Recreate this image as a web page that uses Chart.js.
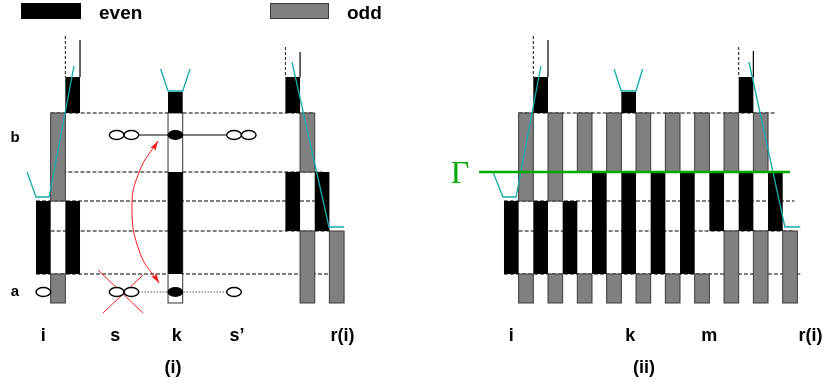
<!DOCTYPE html>
<html lang="en">
<head>
<meta charset="UTF-8">
<title>even / odd columns</title>
<script src="https://cdn.jsdelivr.net/npm/chart.js"></script>
<style>
    body { margin: 0; background: #fff; }
    canvas { display: block; }
</style>
</head>
<body>
<canvas id="diagram" width="825" height="383"></canvas>
<script>
// x is measured in columns (column c spans c..c+1), y in height units counted downward.
// bars: [column, top, bottom]
const evenBarsI = [[0, 201, 274], [2, 77, 113], [2, 201, 274], [9, 92, 113], [9, 172, 274],
                   [17, 77, 113], [17, 172, 231], [19, 172, 231]];
const oddBarsI = [[1, 113, 201], [1, 274, 303], [18, 113, 172], [18, 231, 303], [20, 231, 303]];
const emptyBarsI = [[9, 113, 303]];

const evenBarsII = [[0, 201, 274], [2, 77, 113], [2, 201, 274], [4, 201, 274], [6, 172, 274],
                    [8, 92, 113], [8, 172, 274], [10, 172, 274], [12, 172, 274], [14, 172, 231],
                    [16, 77, 113], [16, 172, 231], [18, 172, 231]];
const oddBarsII = [[1, 113, 201], [1, 274, 303], [3, 113, 201], [3, 274, 303], [5, 113, 172], [5, 274, 303],
                   [7, 113, 172], [7, 274, 303], [9, 113, 172], [9, 274, 303], [11, 113, 172], [11, 274, 303],
                   [13, 113, 172], [13, 274, 303], [15, 113, 172], [15, 231, 303], [17, 113, 172],
                   [17, 231, 303], [19, 231, 303]];

// dashed guide lines: [level, from column, to column]
const guidesI = [[113, 1, 19], [172, 1.8, 19.5], [201, 0, 19.7], [231, 1, 20], [274, 0, 20]];
const guidesII = [[113, 1, 18.5], [201, 0, 19.8], [231, 1, 19.7], [274, 0, 20.2]];

// stems above the tall columns: [column edge, top level] (all end at 77)
const dashedStemsI = [[2, 36], [17, 47]];
const solidStemsI = [[3, 40], [18, 52]];
const dashedStemsII = [[2, 36], [16, 47]];
const solidStemsII = [[3, 40], [17, 51]];

// cyan boundary paths
const cyanI = [
    [[-0.61, 172], [0, 197], [0.89, 197], [2.59, 66]],
    [[8.5, 69], [9, 91], [10, 91], [10.5, 69]],
    [[17.45, 62], [19.97, 227], [21, 227]]
];
const cyanII = [
    [[-0.75, 172], [-0.07, 197], [0.82, 197], [2.52, 66]],
    [[7.5, 69], [8, 91], [9, 91], [9.45, 69]],
    [[16.7, 62], [19.15, 227], [20.2, 227]]
];

// nodes of panel (i)
const openNodesI = [[5.5, 135], [6.5, 135], [13.5, 135], [14.5, 135], [0.5, 292], [5.5, 292], [6.5, 292], [13.5, 292]];
const filledNodesI = [[9.5, 135], [9.5, 292]];
const solidBondI = [[7, 135], [13, 135]];
const dottedBondI = [[7, 292], [13, 292]];

// red marks of panel (i)
const crossI = [[[4.23, 270], [7.29, 313]], [[4.57, 313], [7.29, 275]]];
const swapArrowI = [[8.32, 141], [7.09, 170], [6.54, 207], [7.09, 253], [8.39, 283]];

// Gamma line of panel (ii)
const gammaLineII = [[-1.7, 172], [19.5, 172]];

// text
const colLabelsI = [['i', 0.5], ['s', 5.4], ['k', 9.6], ['s\u2019', 13.7], ['r(i)', 20.9]];
const colLabelsII = [['i', 0.5], ['k', 8.6], ['m', 14.0], ['r(i)', 20.9]];
const rowLabelsI = [['b', 138], ['a', 292]];
const panelTitles = [['(i)', 9.34, 0], ['(ii)', 9.54, 1]];

const PANEL_OFFSET = [0, 31.9];
const EVEN = '#000000';
const ODD = '#808080';
const CYAN = '#14aaaa';
const GREEN = '#00aa00';
const RED = '#ff1a1a';

function pts(list, dx) {
    return list.map(p => ({ x: p[0] + dx, y: p[1] }));
}

const datasets = [];
function addLine(data, style) {
    datasets.push(Object.assign({
        type: 'line', data: data, showLine: true, pointRadius: 0, fill: false,
        tension: 0, borderWidth: 1, order: 1
    }, style));
}

// guides (drawn first), then bars placeholder, then overlays
[guidesI, guidesII].forEach((g, p) => {
    g.forEach(([lvl, a, b]) => addLine(pts([[a, lvl], [b, lvl]], PANEL_OFFSET[p]),
        { borderColor: '#000', borderWidth: 1.2, borderDash: [4, 2], order: 3 }));
});
datasets.push({ id: 'bars', type: 'line', data: [], order: 2 });

[[dashedStemsI, solidStemsI], [dashedStemsII, solidStemsII]].forEach(([ds, ss], p) => {
    ds.forEach(([c, top]) => addLine(pts([[c, top], [c, 77]], PANEL_OFFSET[p]), { borderColor: '#111', borderDash: [3, 2] }));
    ss.forEach(([c, top]) => addLine(pts([[c, top], [c, 77]], PANEL_OFFSET[p]), { borderColor: '#000', borderWidth: 1.2 }));
});

addLine(pts(solidBondI, 0), { borderColor: '#000' });
addLine(pts(dottedBondI, 0), { borderColor: '#000', borderDash: [1, 2] });
addLine(pts(gammaLineII, PANEL_OFFSET[1]), { borderColor: GREEN, borderWidth: 2.5 });

[cyanI, cyanII].forEach((paths, p) => {
    paths.forEach(path => addLine(pts(path, PANEL_OFFSET[p]), { borderColor: CYAN, borderWidth: 1.3 }));
});

crossI.forEach(seg => addLine(pts(seg, 0), { borderColor: RED }));
addLine(pts(swapArrowI, 0), { id: 'arrow', borderColor: RED, tension: 0.45 });

function drawBars(chart) {
    const { ctx, scales: { x, y } } = chart;
    const box = (c, top, bot, fill, stroke) => {
        const x0 = x.getPixelForValue(c), x1 = x.getPixelForValue(c + 1);
        const y0 = y.getPixelForValue(top), y1 = y.getPixelForValue(bot);
        ctx.fillStyle = fill;
        ctx.fillRect(x0, y0, x1 - x0, y1 - y0);
        if (stroke) {
            ctx.strokeStyle = stroke;
            ctx.lineWidth = 1;
            ctx.strokeRect(x0, y0, x1 - x0, y1 - y0);
        }
    };
    ctx.save();
    emptyBarsI.forEach(([c, t, b]) => box(c, t, b, '#fff', '#333'));
    [[evenBarsI, oddBarsI], [evenBarsII, oddBarsII]].forEach(([ev, od], p) => {
        const dx = PANEL_OFFSET[p];
        od.forEach(([c, t, b]) => box(c + dx, t, b, ODD, '#3a3a3a'));
        ev.forEach(([c, t, b]) => box(c + dx, t, b, EVEN, null));
    });
    ctx.restore();
}

function arrowHead(ctx, tip, from, color) {
    const ang = Math.atan2(tip.y - from.y, tip.x - from.x);
    const len = 10, half = 3;
    ctx.save();
    ctx.translate(tip.x, tip.y);
    ctx.rotate(ang);
    ctx.fillStyle = color;
    ctx.beginPath();
    ctx.moveTo(0, 0);
    ctx.lineTo(-len, -half);
    ctx.lineTo(-len + 2, 0);
    ctx.lineTo(-len, half);
    ctx.closePath();
    ctx.fill();
    ctx.restore();
}

const diagramPlugin = {
    id: 'diagram',
    beforeDatasetDraw(chart, args) {
        if (chart.data.datasets[args.index].id === 'bars') drawBars(chart);
    },
    afterDatasetsDraw(chart) {
        const { ctx, scales: { x, y } } = chart;
        const X = v => x.getPixelForValue(v);
        const Y = v => y.getPixelForValue(v);
        ctx.save();

        // nodes
        const rx = (X(1) - X(0)) / 2;
        ctx.lineWidth = 1.4;
        ctx.strokeStyle = '#000';
        openNodesI.forEach(([c, l]) => {
            ctx.beginPath();
            ctx.ellipse(X(c), Y(l), rx, 4.5, 0, 0, Math.PI * 2);
            ctx.fillStyle = '#fff';
            ctx.fill();
            ctx.stroke();
        });
        filledNodesI.forEach(([c, l]) => {
            ctx.beginPath();
            ctx.ellipse(X(c), Y(l), rx + 0.5, 5, 0, 0, Math.PI * 2);
            ctx.fillStyle = '#000';
            ctx.fill();
        });

        // arrow heads of the swap curve
        const n = swapArrowI.length;
        const P = i => ({ x: X(swapArrowI[i][0]), y: Y(swapArrowI[i][1]) });
        arrowHead(ctx, P(0), P(1), RED);
        arrowHead(ctx, P(n - 1), P(n - 2), RED);

        // legend
        ctx.fillStyle = EVEN;
        ctx.fillRect(21, 3, 60, 16);
        ctx.fillStyle = ODD;
        ctx.fillRect(270, 3, 59, 16);
        ctx.strokeStyle = '#3a3a3a';
        ctx.lineWidth = 1;
        ctx.strokeRect(270.5, 3.5, 58, 15);

        ctx.fillStyle = '#000';
        ctx.textBaseline = 'alphabetic';
        ctx.font = 'bold 19px "Liberation Sans", Arial, sans-serif';
        ctx.textAlign = 'left';
        ctx.fillText('even', 99, 19);
        ctx.fillText('odd', 347, 19);

        // column labels
        ctx.font = 'bold 18px "Liberation Sans", Arial, sans-serif';
        ctx.textAlign = 'center';
        [colLabelsI, colLabelsII].forEach((labels, p) => {
            labels.forEach(([t, c]) => ctx.fillText(t, X(c + PANEL_OFFSET[p]), Y(341)));
        });
        panelTitles.forEach(([t, c, p]) => ctx.fillText(t, X(c + PANEL_OFFSET[p]), Y(373)));

        ctx.font = 'bold 15px "Liberation Sans", Arial, sans-serif';
        rowLabelsI.forEach(([t, l]) => {
            ctx.textBaseline = 'middle';
            ctx.fillText(t, X(-1.43), Y(l));
        });

        // Gamma
        ctx.font = '32px "Liberation Serif", "DejaVu Serif", serif';
        ctx.fillStyle = GREEN;
        ctx.textBaseline = 'alphabetic';
        ctx.fillText('\u0393', X(PANEL_OFFSET[1] - 3.0), Y(183));

        ctx.restore();
    }
};

new Chart(document.getElementById('diagram'), {
    type: 'scatter',
    data: { datasets: datasets },
    options: {
        responsive: false,
        animation: false,
        events: [],
        layout: { padding: 0 },
        plugins: { legend: { display: false }, tooltip: { enabled: false } },
        scales: {
            x: { type: 'linear', display: false, min: -2.454, max: 53.783 },
            y: { type: 'linear', display: false, reverse: true, min: 0, max: 383 }
        }
    },
    plugins: [diagramPlugin]
});
</script>
</body>
</html>
